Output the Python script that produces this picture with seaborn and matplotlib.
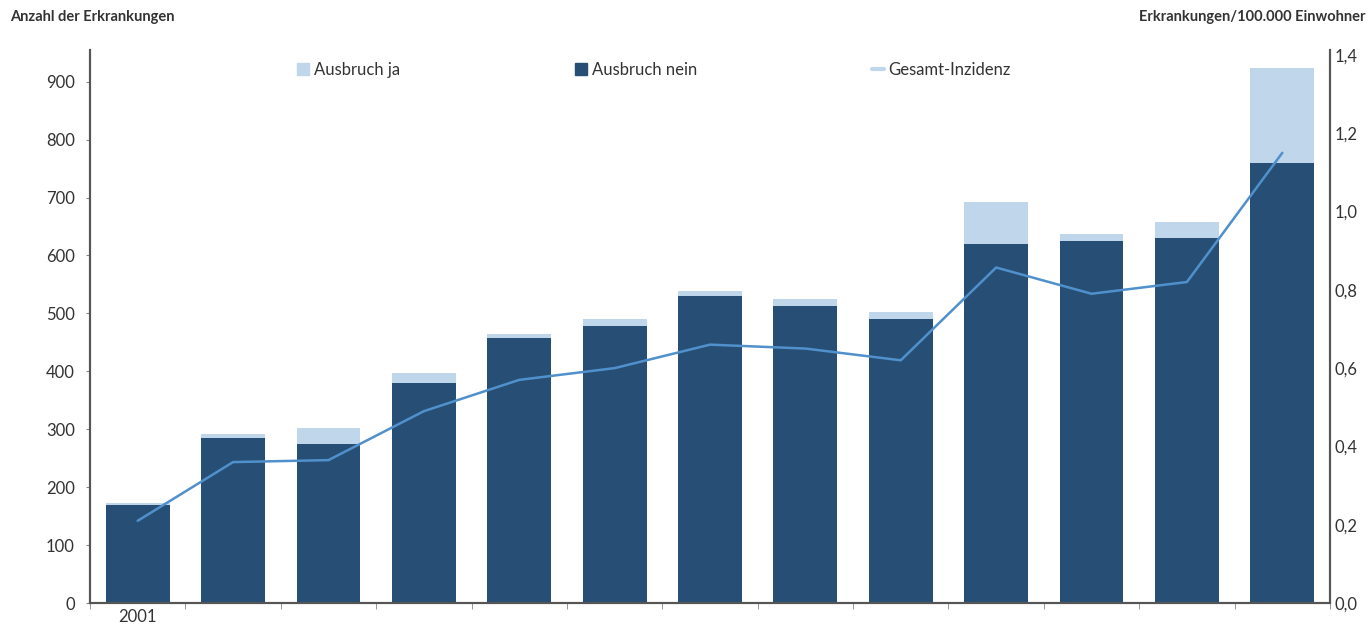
import numpy as np
import pandas as pd
import seaborn as sns
import matplotlib.pyplot as plt
from matplotlib.patches import Patch
from matplotlib.lines import Line2D

# data
years = ["2001", "2002", "2003", "2004", "2005", "2006", "2007",
         "2008", "2009", "2010", "2011", "2012", "2013"]
tick_labels = ["2001"] + [""] * 12
ausbruch_nein = [170, 285, 275, 380, 457, 478, 530, 513, 490, 620, 625, 630, 760]
ausbruch_ja = [3, 7, 27, 17, 8, 13, 8, 12, 12, 72, 12, 28, 163]
inzidenz = [0.21, 0.36, 0.365, 0.49, 0.57, 0.60, 0.66, 0.65, 0.62, 0.857, 0.79, 0.82, 1.15]

dark = "#274f75"
light = "#c0d6ea"
line_c = "#5090cc"
txt = "#333333"

sns.set_style("white")
plt.rcParams["font.family"] = ["Lato", "DejaVu Sans"]

df = pd.DataFrame({"Jahr": years, "nein": ausbruch_nein, "ja": ausbruch_ja, "inz": inzidenz})
df["gesamt"] = df["nein"] + df["ja"]

fig = plt.figure(figsize=(13.7, 6.25), dpi=100)
ax = fig.add_axes([0.0657, 0.0352, 0.9051, 0.885])

# stacked bars: total (light) first, then the dark part on top
sns.barplot(data=df, x="Jahr", y="gesamt", color=light, width=0.67,
            saturation=1, linewidth=0, ax=ax)
sns.barplot(data=df, x="Jahr", y="nein", color=dark, width=0.67,
            saturation=1, linewidth=0, ax=ax)

ax.set_xlim(-0.5, 12.5)
ax.set_ylim(0, 955)
ax.set_yticks(range(0, 1000, 100))
ax.set_xticks(range(len(years)))
ax.set_xticklabels(tick_labels)
ax.set_xticks(np.arange(-0.5, 13, 1), minor=True)
ax.tick_params(axis="x", which="major", length=0, labelsize=12, labelcolor=txt, pad=4)
ax.tick_params(axis="x", which="minor", length=4, color="#888888", bottom=True)
ax.tick_params(axis="y", length=3, color="#888888", left=True, labelsize=12, labelcolor=txt, pad=8)
ax.set_xlabel("")
ax.set_ylabel("")

ax2 = ax.twinx()
sns.lineplot(x=np.arange(len(years)), y=df["inz"], color=line_c, linewidth=1.8, ax=ax2)
ax2.set_ylim(0, 1.413)
ax2.set_yticks(np.arange(0, 1.41, 0.2))
ax2.set_yticklabels([f"{v:.1f}".replace(".", ",") for v in np.arange(0, 1.41, 0.2)])
ax2.tick_params(axis="y", length=0, labelsize=12, labelcolor=txt, pad=3)
ax2.set_ylabel("")
ax2.set_xlim(-0.5, 12.5)

for a in (ax, ax2):
    a.spines["top"].set_visible(False)
    for s in ("left", "right", "bottom"):
        a.spines[s].set_color("#555555")
        a.spines[s].set_linewidth(1.5)

handles = [Patch(color=light, label="Ausbruch ja"),
           Patch(color=dark, label="Ausbruch nein"),
           Line2D([0], [0], color=light, linewidth=3, label="Gesamt-Inzidenz")]
ax.legend(handles=handles, loc="upper left", bbox_to_anchor=(0.155, 1.005), ncol=3,
          frameon=False, fontsize=12, handlelength=0.7, handleheight=0.7,
          handletextpad=0.3, columnspacing=10.5, labelcolor=txt)

fig.text(0.007, 0.972, "Anzahl der Erkrankungen", fontsize=10.5, fontweight="bold",
         color=txt, ha="left", va="center")
fig.text(0.997, 0.972, "Erkrankungen/100.000 Einwohner", fontsize=10.5, fontweight="bold",
         color=txt, ha="right", va="center")

fig.savefig("out.png", dpi=100)
